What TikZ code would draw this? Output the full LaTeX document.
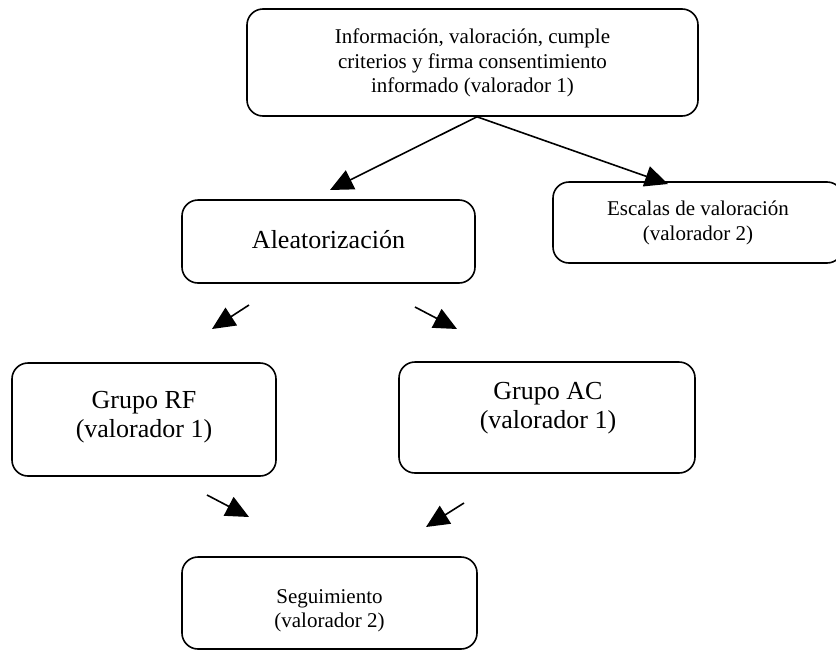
\documentclass[tikz,border=0pt]{standalone}
\usepackage{fontspec}
\setmainfont{Liberation Serif}
\usetikzlibrary{arrows.meta}
\tikzset{
  box/.style={draw, line width=1.6pt, rounded corners=16pt, inner sep=0pt},
  small/.style={align=center, font=\fontsize{21}{24.5}\selectfont, inner sep=0pt},
  big/.style={align=center, font=\fontsize{26}{29}\selectfont, inner sep=0pt},
  arr/.style={line width=1.6pt, -{Triangle[length=23pt,width=21pt]}}
}
\begin{document}
\begin{tikzpicture}[x=1pt,y=-1pt]
\useasboundingbox (0,0) rectangle (836,651);
% boxes
\node[box, minimum width=451pt, minimum height=107pt] (top) at (472.5,62.5) {};
\node[box, minimum width=293pt, minimum height=83pt] (alea) at (328.5,241.5) {};
\node[box, minimum width=290pt, minimum height=81pt] (esc) at (698,222.5) {};
\node[box, minimum width=264pt, minimum height=113pt] (rf) at (144,419.5) {};
\node[box, minimum width=296pt, minimum height=111pt] (ac) at (547,417.5) {};
\node[box, minimum width=295pt, minimum height=92pt] (seg) at (329.5,603) {};
% texts
\node[small] (toptxt) at (472.5,63) {Información, valoración, cumple\\criterios y firma consentimiento\\informado (valorador 1)};
\node[big] (aleatxt) at (328.5,240) {Aleatorización};
\node[small] (esctxt) at (698,223) {Escalas de valoración\\(valorador 2)};
\node[big] (rftxt) at (144,417) {Grupo RF\\(valorador 1)};
\node[big] (actxt) at (548,408) {Grupo AC\\(valorador 1)};
\node[small] (segtxt) at (329.5,611) {Seguimiento\\(valorador 2)};
% connectors
\coordinate (apex) at ([xshift=4.5pt]top.south);
\coordinate (t1) at (330,190);
\coordinate (t2) at (668,184);
\draw[arr] (apex) -- (t1);
\draw[arr] (apex) -- (t2);
\coordinate (a1s) at (249,305); \coordinate (a1e) at (212,329);
\coordinate (a2s) at (415,307); \coordinate (a2e) at (457,329);
\coordinate (b1s) at (207,495); \coordinate (b1e) at (249,517);
\coordinate (b2s) at (464,503); \coordinate (b2e) at (426,527);
\draw[arr] (a1s) -- (a1e);
\draw[arr] (a2s) -- (a2e);
\draw[arr] (b1s) -- (b1e);
\draw[arr] (b2s) -- (b2e);
\end{tikzpicture}
\end{document}
